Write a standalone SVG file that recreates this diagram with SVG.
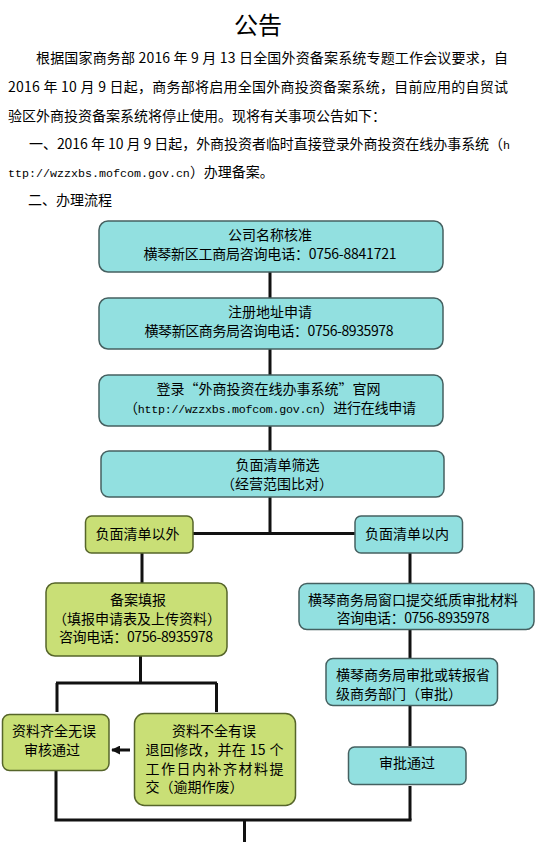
<svg xmlns="http://www.w3.org/2000/svg" width="540" height="862" viewBox="0 0 540 862">
<defs>
<style>
text{font-family:'Noto Sans CJK SC','Noto Sans',sans-serif;font-size:14px;fill:#000}
.c{text-anchor:middle}
.mono{font-family:'Liberation Mono',monospace;font-size:11.67px}
.cy{fill:#92E0E0;stroke:#456060;stroke-width:1.5}
.gr{fill:#C9DF76;stroke:#56652A;stroke-width:1.5}
.ln{stroke:#111;stroke-width:3;fill:none}
</style>
<marker id="ah" viewBox="0 0 10 10" refX="9" refY="5" markerWidth="3" markerHeight="3" orient="auto">
<path d="M0,0 L10,5 L0,10 z" fill="#111"/>
</marker>
</defs>
<rect width="540" height="862" fill="#fff"/>

<g id="header">
<text x="258" y="34" class="c" style="font-size:24px">公告</text>
<text x="36" y="63" textLength="472" lengthAdjust="spacing">根据国家商务部 2016 年 9 月 13 日全国外资备案系统专题工作会议要求，自</text>
<text x="8" y="92" textLength="500" lengthAdjust="spacing">2016 年 10 月 9 日起，商务部将启用全国外商投资备案系统，目前应用的自贸试</text>
<text x="8" y="121">验区外商投资备案系统将停止使用。现将有关事项公告如下：</text>
<text x="29" y="149" textLength="481" lengthAdjust="spacing">一、2016 年 10 月 9 日起，外商投资者临时直接登录外商投资在线办事系统（<tspan class="mono">h</tspan></text>
<text x="8" y="177"><tspan class="mono">ttp://wzzxbs.mofcom.gov.cn</tspan>）办理备案。</text>
<text x="28" y="205">二、办理流程</text>
</g>

<g id="connectors">
<path class="ln" d="M270,272 V298 M270,349 V375 M270,426 V451 M270,497 V533.5"/>
<path class="ln" d="M193,533.5 H355"/>
<path class="ln" d="M142,553 V583"/>
<path class="ln" d="M410,553 V583.5"/>
<path class="ln" d="M140.5,656 V683 M56,683 H217 M57,683 V712 M216.5,683 V712"/>
<path class="ln" d="M410,630 V658.5 M410,705.5 V746 M410,786 V820"/>
<path class="ln" d="M56,771 V820 M54.5,820 H411.5 M244.5,820 V842"/>
<path class="ln" d="M130,750 H112" marker-end="url(#ah)"/>
</g>

<g id="n1">
<rect class="cy" x="99" y="221" width="344" height="51" rx="9"/>
<text x="270" y="240" class="c">公司名称核准</text>
<text x="270" y="258.5" class="c" textLength="253" lengthAdjust="spacing">横琴新区工商局咨询电话：0756-8841721</text>
</g>

<g id="n2">
<rect class="cy" x="99" y="298" width="344" height="51" rx="9"/>
<text x="270" y="317" class="c">注册地址申请</text>
<text x="269" y="335.5" class="c" textLength="249" lengthAdjust="spacing">横琴新区商务局咨询电话：0756-8935978</text>
</g>

<g id="n3">
<rect class="cy" x="99" y="375" width="344" height="51" rx="9"/>
<text x="268.5" y="394" class="c" textLength="224" lengthAdjust="spacing">登录“外商投资在线办事系统”官网</text>
<text x="270" y="412.5" class="c" textLength="292" lengthAdjust="spacing">（<tspan class="mono">http://wzzxbs.mofcom.gov.cn</tspan>）进行在线申请</text>
</g>

<g id="n4">
<rect class="cy" x="101" y="451" width="343" height="46" rx="8"/>
<text x="277.5" y="470" class="c">负面清单筛选</text>
<text x="277" y="488.5" class="c">（经营范围比对）</text>
</g>

<g id="n5">
<rect class="gr" x="85.5" y="516" width="107.5" height="37" rx="6"/>
<text x="137.5" y="539" class="c">负面清单以外</text>
</g>

<g id="n6">
<rect class="cy" x="355" y="516" width="107.5" height="37" rx="6"/>
<text x="407" y="539" class="c">负面清单以内</text>
</g>

<g id="n7">
<rect class="gr" x="46" y="583" width="181" height="73" rx="9"/>
<text x="138" y="604.5" class="c">备案填报</text>
<text x="137" y="623.5" class="c">（填报申请表及上传资料）</text>
<text x="136" y="642" class="c" textLength="154" lengthAdjust="spacing">咨询电话：0756-8935978</text>
</g>

<g id="n8">
<rect class="cy" x="299" y="583.5" width="235" height="46" rx="8"/>
<text x="413" y="604.5" class="c">横琴商务局窗口提交纸质审批材料</text>
<text x="413" y="623" class="c" textLength="153" lengthAdjust="spacing">咨询电话：0756-8935978</text>
</g>

<g id="n9">
<rect class="cy" x="326" y="658.5" width="171.5" height="47" rx="7"/>
<text x="336" y="680">横琴商务局审批或转报省</text>
<text x="336" y="698.5">级商务部门（审批）</text>
</g>

<g id="n10">
<rect class="cy" x="348.5" y="747" width="117.5" height="37.5" rx="6"/>
<text x="407" y="768" class="c">审批通过</text>
</g>

<g id="n11">
<rect class="gr" x="2.5" y="714.5" width="106.5" height="56" rx="7"/>
<text x="54" y="736" class="c">资料齐全无误</text>
<text x="52" y="755" class="c">审核通过</text>
</g>

<g id="n12">
<rect class="gr" x="134.5" y="713.5" width="161" height="92" rx="10"/>
<text x="214" y="736" class="c">资料不全有误</text>
<text x="145.5" y="754.5" textLength="138" lengthAdjust="spacing">退回修改，并在 15 个</text>
<text x="145.5" y="773.5" textLength="138" lengthAdjust="spacing">工作日内补齐材料提</text>
<text x="145.5" y="792">交（逾期作废）</text>
</g>
</svg>
